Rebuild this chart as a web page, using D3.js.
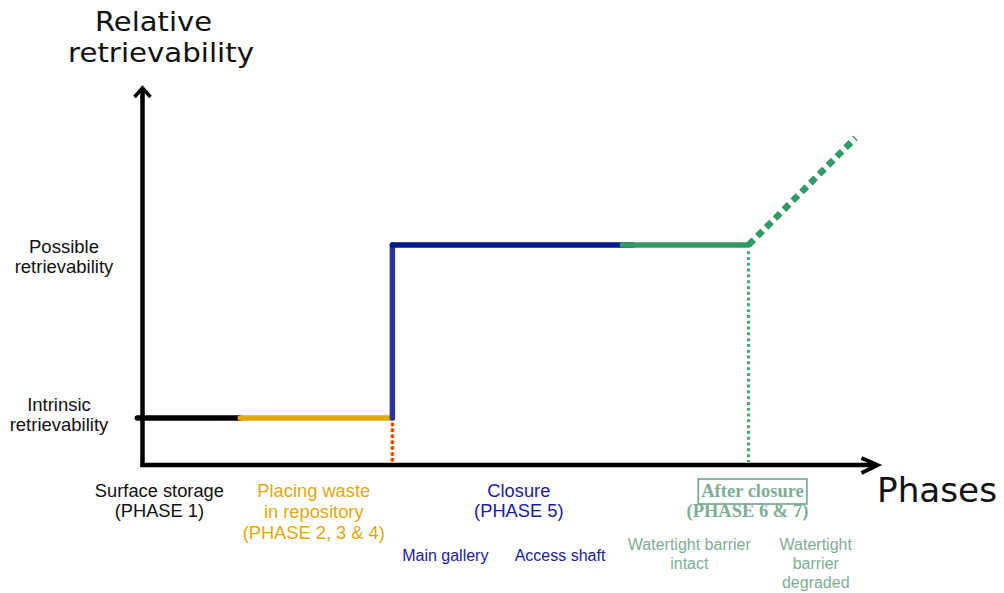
<!DOCTYPE html>
<html><head><meta charset="utf-8">
<script src="https://cdn.jsdelivr.net/npm/d3@7"></script>
<style>body{margin:0;background:#fff;} svg{display:block;}</style>
</head><body>
<script>
// ---- data ----
const levelNames = ["Intrinsic retrievability", "Possible retrievability"];
const levelValues = [1, 4.68];
// solid path segments (phase units on x, retrievability level on y)
const segNames = ["Surface storage", "Placing waste", "Closure rise", "Closure", "After closure intact"];
const segX0 = [-0.07, 1.33, 3.4, 3.4, 6.53];
const segX1 = [1.33, 3.4, 3.4, 6.67, 8.245];
const segY0 = [1, 1, 1, 4.68, 4.68];
const segY1 = [1, 1, 4.68, 4.68, 4.68];
// degraded barrier (dotted rise)
const degX = [8.245, 9.7];
const degY = [4.68, 6.96];
// phase boundary markers
const boundX = [3.4, 8.245];
const boundYTop = [0.9, 4.55];
// bottom labels
const phaseLabels = [
  ["Surface storage", "(PHASE 1)"],
  ["Placing waste", "in repository", "(PHASE 2, 3 & 4)"],
  ["Closure", "(PHASE 5)"],
  ["After closure", "(PHASE 6 & 7)"]
];
const phaseLabelX = [[0.23, 0.23], [2.33, 2.33, 2.33], [5.12, 5.12], [8.3, 8.23]];
const subLabels = [["Main gallery"], ["Access shaft"], ["Watertight barrier", "intact"], ["Watertight", "barrier", "degraded"]];
const subLabelX = [4.12, 5.68, 7.44, 9.16];

// ---- styles ----
const W = 1004, H = 593;
const segColors = ["#000000", "#dfa90d", "#30309c", "#001a8f", "#339966"];
const phaseColors = ["#111111", "#dfa90d", "#1c1c99", "#7fae96"];
const subColors = ["#1c1c99", "#1c1c99", "#7fae96", "#7fae96"];

const svg = d3.select("body").append("svg").attr("width", W).attr("height", H);
const x = d3.scaleLinear().domain([0, 10]).range([142.5, 877.5]);
const y = d3.scaleLinear().domain([0, 8]).range([465, 89]);

// boundary dotted lines
const b0 = svg.append("g");
b0.append("line").attr("x1", x(boundX[0])).attr("x2", x(boundX[0]))
  .attr("y1", y(boundYTop[0])).attr("y2", y(0) - 2)
  .attr("stroke", "#f6a600").attr("stroke-width", 4).attr("stroke-dasharray", "3.5 2.4");
b0.append("line").attr("x1", x(boundX[0])).attr("x2", x(boundX[0]))
  .attr("y1", y(boundYTop[0])).attr("y2", y(0) - 2)
  .attr("stroke", "#e8200a").attr("stroke-width", 2).attr("stroke-dasharray", "3.5 2.4");
svg.append("line").attr("x1", x(boundX[1])).attr("x2", x(boundX[1]))
  .attr("y1", y(boundYTop[1])).attr("y2", y(0) - 3)
  .attr("stroke", "#4fa47a").attr("stroke-width", 3.2).attr("stroke-dasharray", "3 2.8");

// degraded dotted diagonal
svg.append("line").attr("x1", x(degX[0])).attr("y1", y(degY[0]))
  .attr("x2", x(degX[1])).attr("y2", y(degY[1]))
  .attr("stroke", "#339966").attr("stroke-width", 6.5).attr("stroke-dasharray", "7.5 5");

// solid segments
segNames.forEach((n, i) => {
  svg.append("line")
    .attr("x1", x(segX0[i])).attr("x2", x(segX1[i]))
    .attr("y1", y(segY0[i])).attr("y2", y(segY1[i]))
    .attr("stroke", segColors[i]).attr("stroke-width", 5.5)
    .attr("stroke-linecap", "round");
});

// axes
const ax = svg.append("g").attr("stroke", "#000").attr("fill", "none").attr("stroke-width", 4.5);
ax.append("line").attr("x1", x(0)).attr("x2", x(0)).attr("y1", y(0) + 2).attr("y2", y(8) - 1);
ax.append("line").attr("x1", x(0) - 2).attr("x2", x(10) - 2).attr("y1", y(0)).attr("y2", y(0));
ax.append("path").attr("d", `M${x(0)-8},${y(8)+8} L${x(0)},${y(8)-1} L${x(0)+8},${y(8)+8}`)
  .attr("stroke-width", 3.5).attr("stroke-linejoin", "miter");
ax.append("path").attr("d", `M${x(10)-16},${y(0)-7} L${x(10)},${y(0)} L${x(10)-16},${y(0)+8}`)
  .attr("stroke-width", 4).attr("stroke-linejoin", "miter");

// axis titles
const tf = "'DejaVu Sans', sans-serif";
svg.append("text").attr("x", 95).attr("y", 31).attr("font-family", tf).attr("font-size", 27)
  .attr("fill", "#111").attr("textLength", 117).attr("lengthAdjust", "spacingAndGlyphs").text("Relative");
svg.append("text").attr("x", 68).attr("y", 62).attr("font-family", tf).attr("font-size", 27)
  .attr("fill", "#111").attr("textLength", 186).attr("lengthAdjust", "spacingAndGlyphs").text("retrievability");
svg.append("text").attr("x", 877).attr("y", 502).attr("font-family", tf).attr("font-size", 34)
  .attr("fill", "#111").attr("textLength", 120).attr("lengthAdjust", "spacingAndGlyphs").text("Phases");

// y level labels
const lf = "'Liberation Sans', Arial, sans-serif";
levelNames.forEach((n, i) => {
  const words = n.split(" ");
  const t = svg.append("text").attr("font-family", lf).attr("font-size", 18.5)
    .attr("text-anchor", "middle").attr("fill", "#111");
  const cx = i === 0 ? 59 : 64;
  const base = y(levelValues[i]) + (i === 0 ? -7 : 8);
  words.forEach((w, j) => t.append("tspan").attr("x", cx).attr("y", base + j * 19.5).text(w));
});

// phase labels
phaseLabels.forEach((lines, i) => {
  const isSerif = i === 3;
  const t = svg.append("text").attr("text-anchor", "middle")
    .attr("font-family", isSerif ? "'Liberation Serif', 'Times New Roman', serif" : lf)
    .attr("font-weight", isSerif ? "bold" : "normal")
    .attr("font-size", isSerif ? 18.5 : 18.3).attr("fill", phaseColors[i]);
  lines.forEach((l, j) => t.append("tspan").attr("x", x(phaseLabelX[i][j]))
    .attr("y", 497 + j * (i === 1 ? 21 : 19.5)).text(l));
  if (isSerif) {
    const bb = t.node().firstChild.getBBox();
    svg.append("rect").attr("x", bb.x - 3).attr("y", 479).attr("width", bb.width + 6).attr("height", 25)
      .attr("fill", "none").attr("stroke", phaseColors[i]).attr("stroke-width", 1.8);
  }
});
// sub labels
subLabels.forEach((lines, i) => {
  const t = svg.append("text").attr("text-anchor", "middle").attr("font-family", lf)
    .attr("font-size", 16).attr("fill", subColors[i]);
  const base = i < 2 ? 561 : 550;
  lines.forEach((l, j) => t.append("tspan").attr("x", x(subLabelX[i])).attr("y", base + j * 18.8).text(l));
});
</script>
</body></html>
